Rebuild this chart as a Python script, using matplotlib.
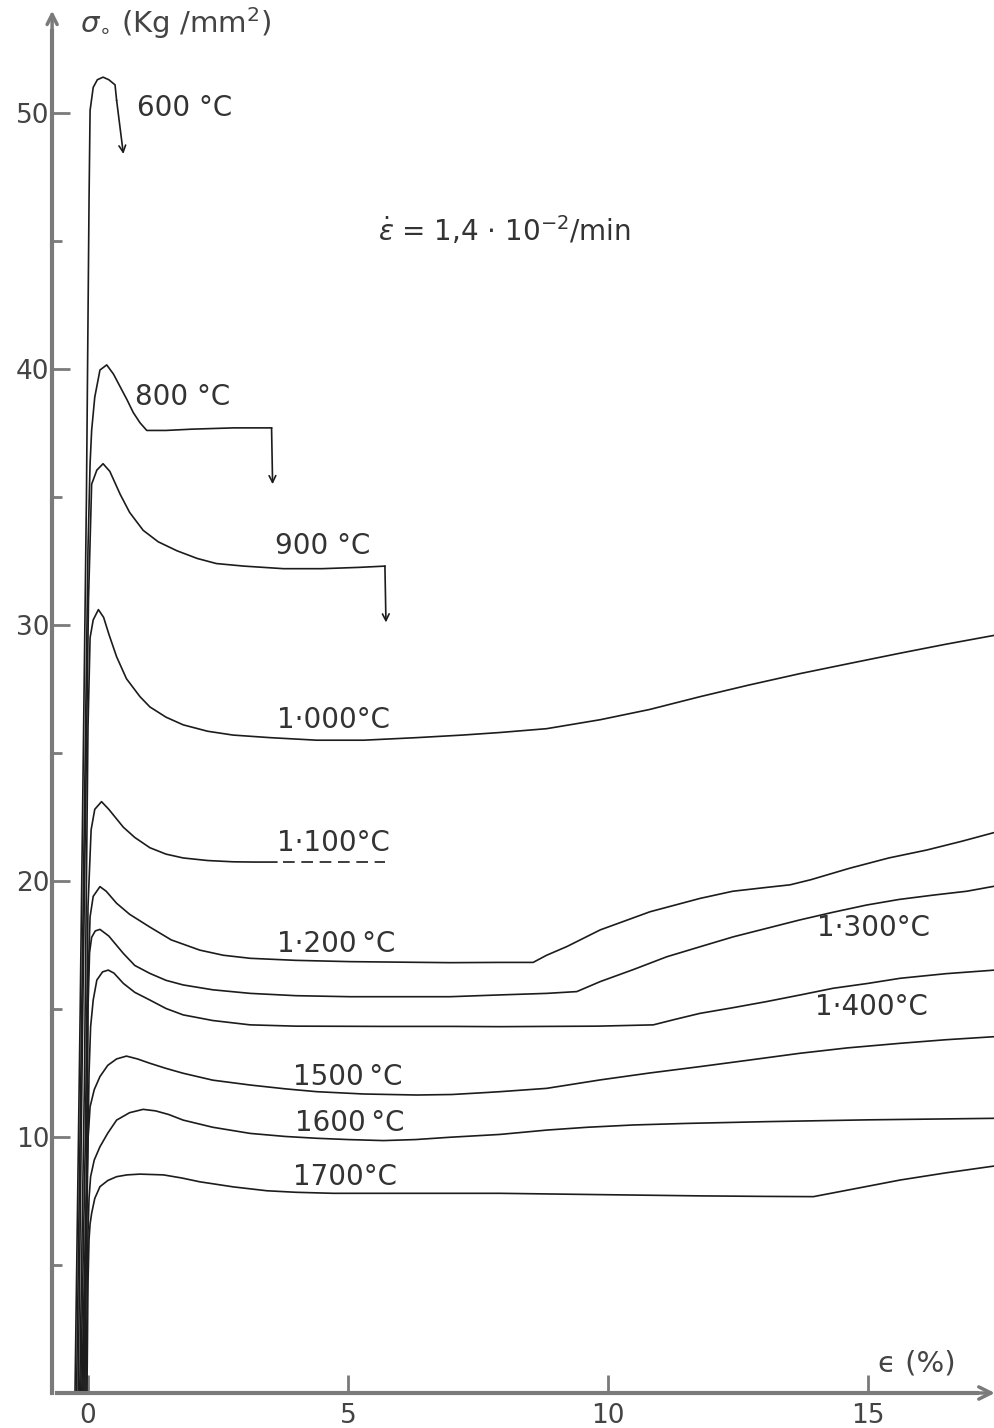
import numpy as np
import matplotlib.pyplot as plt

# strain (%) and stress (Kg/mm2)
e600 = [-0.25, -0.15, -0.03, 0.02, 0.04, 0.1, 0.18, 0.29, 0.4, 0.52, 0.55]
s600 = [0, 15, 35, 46.6, 50.1, 51.0, 51.3, 51.4, 51.3, 51.1, 50.5]
drop600 = (0.68, 48.4)

e800 = [-0.22, -0.12, 0.0, 0.04, 0.07, 0.13, 0.23, 0.36, 0.49, 0.62, 0.75, 0.87, 1.0, 1.13, 1.5, 2.0, 2.8, 3.53]
s800 = [0, 15, 33, 36.3, 37.6, 38.9, 39.96, 40.16, 39.8, 39.3, 38.8, 38.3, 37.9, 37.6, 37.6, 37.65, 37.7, 37.7]
drop800 = (3.55, 35.5)

e900 = [-0.19, -0.1, 0.01, 0.07, 0.17, 0.29, 0.42, 0.62, 0.8, 1.06, 1.35, 1.71, 2.1, 2.47, 3.0, 3.76, 4.5, 5.2, 5.71]
s900 = [0, 15, 31, 35.5, 36.05, 36.3, 36.0, 35.1, 34.4, 33.7, 33.25, 32.9, 32.6, 32.4, 32.3, 32.2, 32.2, 32.25, 32.3]
drop900 = (5.73, 30.1)

e1000 = [-0.16, -0.07, 0.0, 0.04, 0.1, 0.2, 0.3, 0.4, 0.55, 0.74, 1.0, 1.19, 1.5, 1.83, 2.3, 2.79, 3.5, 4.4,
         5.3, 6.32, 7.2, 7.92, 8.82, 9.85, 10.8, 11.77, 12.7, 13.69, 14.65, 15.62, 16.5, 17.44]
s1000 = [0, 12, 26, 29.5, 30.2, 30.6, 30.3, 29.65, 28.76, 27.9, 27.2, 26.8, 26.4, 26.1, 25.85, 25.7, 25.6, 25.5,
         25.5, 25.6, 25.7, 25.8, 25.95, 26.3, 26.7, 27.2, 27.65, 28.1, 28.5, 28.9, 29.25, 29.6]

e1100 = [-0.14, -0.05, 0.0, 0.06, 0.13, 0.26, 0.4, 0.68, 0.9, 1.19, 1.5, 1.83, 2.3, 2.79, 3.2, 3.63]
s1100 = [0, 10, 19, 22.0, 22.8, 23.1, 22.8, 22.1, 21.7, 21.3, 21.05, 20.9, 20.8, 20.75, 20.74, 20.74]
dash1100_e = [3.75, 5.71]
dash1100_s = [20.74, 20.74]

e1200 = [-0.12, -0.03, 0.0, 0.04, 0.1, 0.23, 0.35, 0.55, 0.8, 1.19, 1.6, 2.15, 2.6, 3.12, 4.0, 5.04, 6.0, 6.96,
         7.92, 8.56, 8.82, 9.21, 9.85, 10.81, 11.77, 12.4, 13.05, 13.5, 13.9, 14.65, 15.4, 16.13, 16.8, 17.44]
s1200 = [0, 8, 16, 18.6, 19.4, 19.78, 19.6, 19.13, 18.7, 18.2, 17.7, 17.3, 17.1, 16.98, 16.9, 16.85, 16.83, 16.81,
         16.82, 16.82, 17.1, 17.44, 18.09, 18.8, 19.32, 19.6, 19.75, 19.85, 20.05, 20.5, 20.9, 21.21, 21.55, 21.9]

e1300 = [-0.1, -0.03, 0.0, 0.03, 0.07, 0.14, 0.23, 0.4, 0.68, 0.9, 1.19, 1.5, 1.83, 2.4, 3.12, 4.0, 5.04, 6.0,
         6.96, 7.92, 8.82, 9.4, 9.85, 10.5, 11.13, 11.8, 12.41, 13.05, 13.69, 14.33, 14.97, 15.6, 16.26, 16.9, 17.44]
s1300 = [0, 8, 15, 17.2, 17.8, 18.05, 18.11, 17.85, 17.17, 16.7, 16.39, 16.12, 15.94, 15.75, 15.61, 15.52, 15.48,
         15.48, 15.48, 15.55, 15.61, 15.68, 16.07, 16.55, 17.04, 17.45, 17.82, 18.15, 18.48, 18.78, 19.06, 19.28,
         19.45, 19.6, 19.8]

e1400 = [-0.08, -0.02, 0.02, 0.05, 0.1, 0.17, 0.28, 0.39, 0.5, 0.68, 0.9, 1.19, 1.5, 1.83, 2.4, 3.12, 4.0, 5.68,
         7.0, 7.92, 8.82, 9.8, 10.87, 11.3, 11.77, 12.4, 13.05, 13.7, 14.33, 15.0, 15.62, 16.5, 17.44]
s1400 = [0, 7, 12.5, 14.3, 15.35, 16.13, 16.45, 16.52, 16.4, 16.0, 15.65, 15.35, 15.02, 14.77, 14.55, 14.38, 14.33,
         14.32, 14.32, 14.31, 14.32, 14.33, 14.38, 14.6, 14.83, 15.05, 15.29, 15.55, 15.81, 16.0, 16.2, 16.38, 16.52]

e1500 = [-0.06, -0.04, -0.02, 0.0, 0.04, 0.12, 0.23, 0.38, 0.55, 0.74, 0.95, 1.19, 1.5, 1.83, 2.4, 3.12, 3.8,
         4.4, 5.3, 6.32, 7.0, 7.6, 7.92, 8.82, 9.85, 10.8, 11.77, 12.7, 13.69, 14.6, 15.62, 16.5, 17.44]
s1500 = [0, 4, 8.2, 9.9, 11.18, 11.85, 12.36, 12.8, 13.05, 13.16, 13.05, 12.88, 12.68, 12.49, 12.22, 12.03, 11.88,
         11.77, 11.68, 11.64, 11.66, 11.73, 11.77, 11.9, 12.23, 12.5, 12.75, 13.0, 13.27, 13.48, 13.66, 13.8, 13.92]

e1600 = [-0.04, -0.02, 0.0, 0.02, 0.05, 0.12, 0.23, 0.38, 0.55, 0.8, 1.06, 1.3, 1.55, 1.83, 2.4, 3.12, 3.8, 4.4,
         5.0, 5.68, 6.3, 6.96, 7.92, 8.82, 9.6, 10.49, 11.5, 13.05, 15.0, 17.44]
s1600 = [0, 3, 6.25, 7.6, 8.45, 9.1, 9.62, 10.15, 10.66, 10.95, 11.08, 11.02, 10.88, 10.66, 10.38, 10.14, 10.02,
         9.95, 9.9, 9.86, 9.9, 9.99, 10.1, 10.27, 10.38, 10.47, 10.53, 10.6, 10.67, 10.73]

e1700 = [-0.02, 0.0, 0.02, 0.04, 0.07, 0.13, 0.23, 0.38, 0.55, 0.75, 1.0, 1.45, 1.8, 2.15, 2.8, 3.44, 4.0, 4.72,
         6.0, 7.92, 9.8, 11.77, 13.0, 13.95, 14.8, 15.62, 16.5, 17.44]
s1700 = [0, 4.3, 6.0, 6.6, 7.02, 7.6, 8.06, 8.3, 8.45, 8.52, 8.55, 8.52, 8.4, 8.25, 8.05, 7.9, 7.84, 7.8,
         7.8, 7.8, 7.75, 7.7, 7.68, 7.67, 8.0, 8.32, 8.6, 8.87]

# labels: text and (left x, centre y)
labels = ['600 °C', '800 °C', '900 °C', '1·000°C', '1·100°C', '1·200\u2009°C', '1·300°C', '1·400°C',
          '1500\u2009°C', '1600\u2009°C', '1700°C']
label_x = [0.94, 0.9, 3.6, 3.63, 3.63, 3.63, 14.02, 13.98, 3.94, 3.98, 3.94]
label_y = [50.2, 38.9, 33.1, 26.3, 21.5, 17.54, 18.18, 15.08, 12.34, 10.55, 8.42]

x_ticks = [0, 5, 10, 15]
y_ticks = [10, 20, 30, 40, 50]
y_minor = [5, 15, 25, 35, 45]

ink = '#1c1c1c'
axis_col = '#7a7a7a'

fig = plt.figure(figsize=(9.95, 14.28), dpi=100)
ax = fig.add_axes([0, 0, 1, 1])
ax.set_xlim(-88 / 52, 907 / 52)
ax.set_ylim(-35 / 25.6, 1393 / 25.6)

# curves
curves = [(e600, s600), (e800, s800), (e900, s900), (e1000, s1000), (e1100, s1100), (e1200, s1200),
          (e1300, s1300), (e1400, s1400), (e1500, s1500), (e1600, s1600), (e1700, s1700)]
for e, s in curves:
    ax.plot(e, s, color=ink, lw=1.2, solid_joinstyle='round')
ax.plot(dash1100_e, dash1100_s, color=ink, lw=1.2, dashes=(7, 4))

# curves that stop with a downward arrow (specimen failure)
for (e, s), end in [((e600, s600), drop600), ((e800, s800), drop800), ((e900, s900), drop900)]:
    ax.annotate('', xy=end, xytext=(e[-1], s[-1]),
                arrowprops=dict(arrowstyle='->', color=ink, lw=1.2, shrinkA=0, shrinkB=0,
                                mutation_scale=12))

for txt, lx, ly in zip(labels, label_x, label_y):
    ax.text(lx, ly, txt, fontsize=20, color='#333333', ha='left', va='center', family='DejaVu Sans')

ax.text(5.58, 45.4, r'$\dot{\epsilon}$ = 1,4 $\cdot$ 10$^{-2}$/min', fontsize=20, color='#333333',
        ha='left', va='center')

# axes drawn like the hand-made original
for side in ['top', 'right']:
    ax.spines[side].set_visible(False)
ax.spines['left'].set_position(('data', -0.69))
ax.spines['bottom'].set_position(('data', 0))
ax.spines['left'].set_bounds(0, 53.2)
ax.spines['bottom'].set_bounds(-0.6, 17.1)
for side in ['left', 'bottom']:
    ax.spines[side].set_color(axis_col)
    ax.spines[side].set_linewidth(3)

ax.annotate('', xy=(17.44, 0), xytext=(16.9, 0),
            arrowprops=dict(arrowstyle='->', color=axis_col, lw=2.5, shrinkA=0, shrinkB=0, mutation_scale=22))
ax.annotate('', xy=(-0.69, 54.0), xytext=(-0.69, 52.8),
            arrowprops=dict(arrowstyle='->', color=axis_col, lw=2.5, shrinkA=0, shrinkB=0, mutation_scale=18))

ax.set_xticks(x_ticks)
ax.set_xticklabels([str(v) for v in x_ticks])
ax.set_yticks(y_ticks)
ax.set_yticklabels([str(v) for v in y_ticks])
ax.set_yticks(y_minor, minor=True)
ax.tick_params(axis='x', direction='in', length=13, width=2, color=axis_col, pad=7,
               labelsize=19, labelcolor='#444444')
ax.tick_params(axis='y', which='major', direction='in', length=13, width=2, color=axis_col, pad=2,
               labelsize=19, labelcolor='#444444')
ax.tick_params(axis='y', which='minor', direction='in', length=7, width=2, color=axis_col)

ax.text(-0.15, 53.5, r'$\sigma_{\circ}$ (Kg /mm$^2$)', fontsize=21, color='#444444', ha='left', va='center')
ax.text(15.2, 1.17, 'ϵ (%)', fontsize=21, color='#444444', ha='left', va='center')

fig.savefig('out.png', dpi=100)
